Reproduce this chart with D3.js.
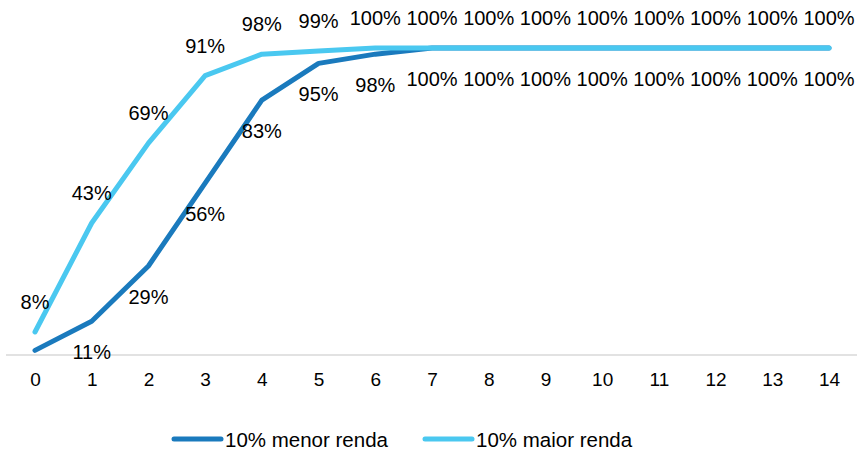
<!DOCTYPE html>
<html><head><meta charset="utf-8">
<script src="https://cdn.jsdelivr.net/npm/d3@7"></script>
<style>body{margin:0;background:#fff}svg{display:block}text{font-family:"Liberation Sans",Arial,sans-serif;fill:#000}</style>
</head><body><svg id="c" width="858" height="449"></svg>
<script>
const categories = ["0","1","2","3","4","5","6","7","8","9","10","11","12","13","14"];
const lowIncome = [1.5,11,29,56,83,95,98,100,100,100,100,100,100,100,100];
const highIncome = [7.5,43,69,91,98,99,100,100,100,100,100,100,100,100,100];
const lowLabels = [null,"11%","29%","56%","83%","95%","98%","100%","100%","100%","100%","100%","100%","100%","100%"];
const highLabels = ["8%","43%","69%","91%","98%","99%","100%","100%","100%","100%","100%","100%","100%","100%","100%"];
const seriesNames = ["10% menor renda","10% maior renda"];

const svg = d3.select("#c");
const x = d3.scalePoint().domain(categories).range([35,829]);
const y = d3.scaleLinear().domain([0,100]).range([355,48]);

svg.append("line").attr("x1",6).attr("x2",857).attr("y1",y(0)).attr("y2",y(0))
  .attr("stroke","#d9d9d9").attr("stroke-width",1.5);

const xAxis = svg.append("g").attr("transform",`translate(0,${y(0)})`)
  .call(d3.axisBottom(x).tickSize(0).tickPadding(18));
xAxis.select(".domain").remove();
xAxis.selectAll("text").attr("font-size",19).attr("font-family","Liberation Sans, Arial, sans-serif").attr("fill","#000");

const series = [
  {name:seriesNames[0], vals:lowIncome, labels:lowLabels, color:"#1a7abd", dy:31},
  {name:seriesNames[1], vals:highIncome, labels:highLabels, color:"#4ac8f0", dy:-30}
];
const line = d3.line().x((d,i)=>x(categories[i])).y(d=>y(d));

series.forEach(s=>{
  svg.append("path").datum(s.vals).attr("d",line).attr("fill","none")
    .attr("stroke",s.color).attr("stroke-width",5).attr("stroke-linecap","round").attr("stroke-linejoin","round");
});
series.forEach(s=>{
  const pts = s.vals.map((v,i)=>({cat:categories[i], v, label:s.labels[i]})).filter(p=>p.label!==null);
  svg.append("g").selectAll("text").data(pts).join("text")
    .attr("x",p=>x(p.cat))
    .attr("y",p=>y(p.v)+s.dy)
    .attr("text-anchor","middle").attr("dominant-baseline","central")
    .attr("font-size",20)
    .text(p=>p.label);
});

const leg = [{x:174},{x:425}];
series.forEach((s,i)=>{
  const g = svg.append("g").attr("transform",`translate(${leg[i].x},439)`);
  g.append("line").attr("x1",0).attr("x2",47).attr("y1",0).attr("y2",0)
    .attr("stroke",s.color).attr("stroke-width",5).attr("stroke-linecap","round");
  g.append("text").attr("x",51).attr("y",0).attr("dominant-baseline","central").attr("font-size",20.5).text(s.name);
});
</script></body></html>
